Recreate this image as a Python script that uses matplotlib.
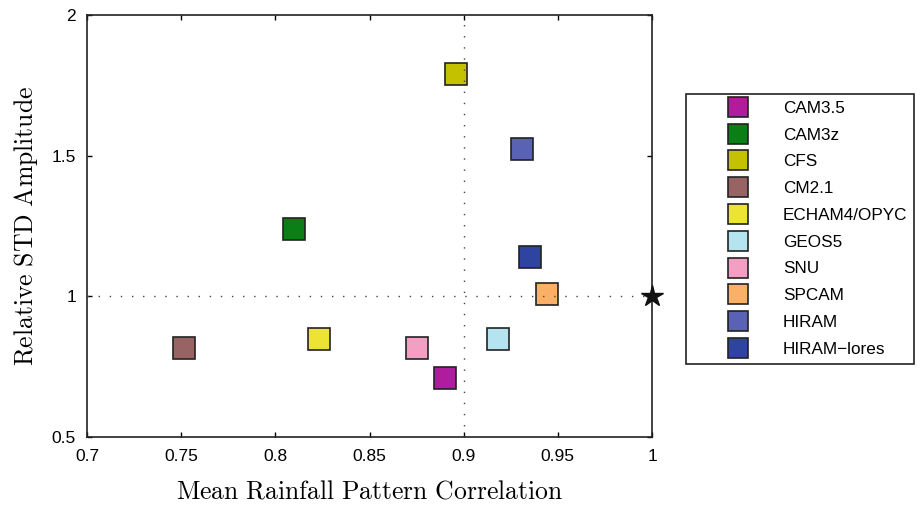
import matplotlib
matplotlib.use('Agg')
import matplotlib.pyplot as plt

plt.rcParams['font.family'] = ['Liberation Sans', 'DejaVu Sans']
plt.rcParams['mathtext.fontset'] = 'cm'

models = ['CAM3.5', 'CAM3z', 'CFS', 'CM2.1', 'ECHAM4/OPYC', 'GEOS5', 'SNU', 'SPCAM', 'HIRAM', 'HIRAM\u2212lores']
corr = [0.890, 0.810, 0.896, 0.7515, 0.823, 0.918, 0.875, 0.944, 0.931, 0.935]
std_amp = [0.71, 1.24, 1.79, 0.816, 0.848, 0.848, 0.816, 1.01, 1.525, 1.14]
colors = ['#b01c9e', '#0b7f16', '#c4c200', '#986463', '#ede332', '#b5e3ef',
          '#f39ec2', '#fbb068', '#5a62b5', '#2e44a0']

fig = plt.figure(figsize=(9.22, 5.05), dpi=100)
ax = fig.add_axes([0.0944, 0.1347, 0.6128, 0.8356])

# reference lines, drawn over the markers like the original
ax.axvline(0.9, color='#444444', lw=1, ls=(0, (1, 7)), zorder=4)
ax.axhline(1.0, color='#444444', lw=1, ls=(0, (1, 7)), zorder=4)

for name, x, y, c in zip(models, corr, std_amp, colors):
    ax.plot(x, y, 's', ms=15.5, mfc=c, mec='#222222', mew=1.2, label=name, zorder=3)

ax.plot(1.0, 1.0, '*', ms=16, color='#111111', clip_on=False, zorder=5)

ax.set_xlim(0.7, 1.0)
ax.set_ylim(0.5, 2.0)
ax.set_xticks([0.7, 0.75, 0.8, 0.85, 0.9, 0.95, 1.0])
ax.set_xticklabels(['0.7', '0.75', '0.8', '0.85', '0.9', '0.95', '1'])
ax.set_yticks([0.5, 1.0, 1.5, 2.0])
ax.set_yticklabels(['0.5', '1', '1.5', '2'])
ax.tick_params(direction='in', top=True, right=True, length=3.5, width=1, labelsize=12.5, pad=8)
ax.tick_params(axis='x', pad=9)
for s in ax.spines.values():
    s.set_linewidth(1.2)
    s.set_color('#222222')

ax.set_xlabel(r'$\mathrm{Mean\ Rainfall\ Pattern\ Correlation}$', fontsize=18.5, labelpad=11)
ax.set_ylabel(r'$\mathrm{Relative\ STD\ Amplitude}$', fontsize=18.5, labelpad=8)

leg = fig.legend(loc='upper left', bbox_to_anchor=(0.744, 0.814), fontsize=12.3,
                 markerscale=0.95, handlelength=5.25, handletextpad=0.02, labelspacing=0.69,
                 borderpad=0.4, borderaxespad=0, fancybox=False, edgecolor='#222222',
                 framealpha=1, numpoints=1)
leg.get_frame().set_linewidth(1.2)

fig.savefig('out.png', dpi=100)
